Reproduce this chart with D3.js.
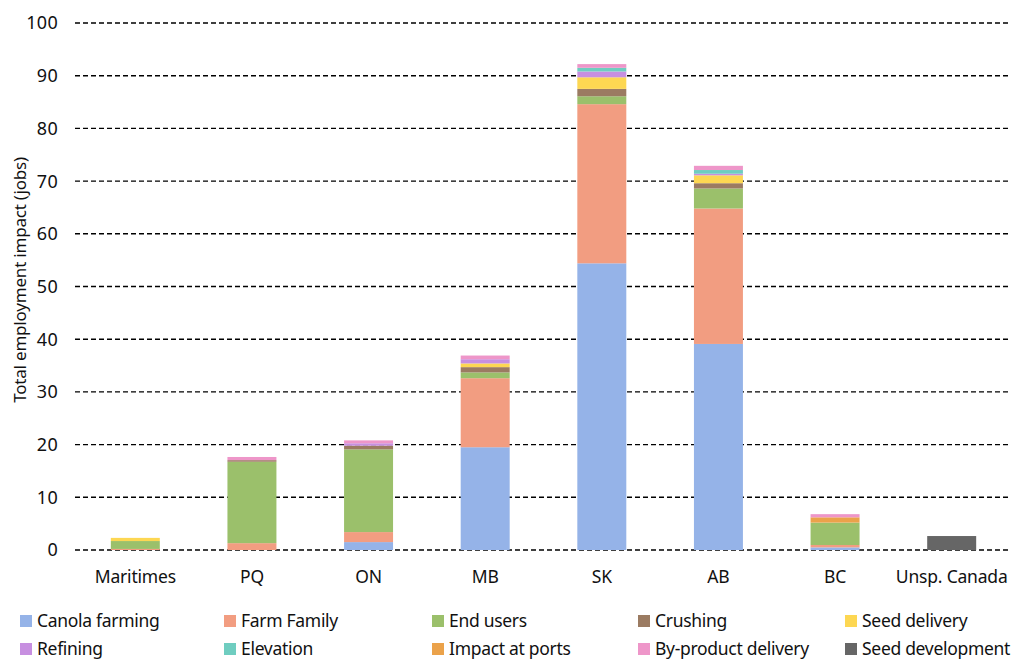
<!DOCTYPE html>
<html lang="en">
<head>
<meta charset="UTF-8">
<title>Total employment impact</title>
<script src="https://d3js.org/d3.v7.min.js"></script>
<style>
    body { margin: 0; background: #fff; }
    text { font-family: "Noto Sans", "Open Sans", sans-serif; fill: #111; }
</style>
</head>
<body>
<script>

// data
const regions = ['Maritimes', 'PQ', 'ON', 'MB', 'SK', 'AB', 'BC', 'Unsp. Canada'];
const series = ['Canola farming', 'Farm Family', 'End users', 'Crushing', 'Seed delivery',
                'Refining', 'Elevation', 'Impact at ports', 'By-product delivery', 'Seed development'];
const colors = ['#95b3e8', '#f29d81', '#9bc06b', '#9b7b62', '#fdd752',
                '#c78fe0', '#6fcdc0', '#eba24a', '#ee96c9', '#666666'];

const canolaFarming    = [0,   0,    1.5,  19.5, 54.4, 39.1, 0.5, 0];
const farmFamily       = [0.2, 1.3,  1.9,  13.1, 30.2, 25.7, 0.45, 0];
const endUsers         = [1.5, 15.45, 15.7, 1.1, 1.5,  3.8,  4.25, 0];
const crushing         = [0,   0.3,  0.7,  1.0,  1.4,  1.0,  0,   0];
const seedDelivery     = [0.6, 0,    0,    0.7,  2.2,  1.5,  0,   0];
const refining         = [0,   0,    0.45, 0.8,  1.1,  0.3,  0,   0];
const elevation        = [0,   0,    0,    0,    0.7,  0.7,  0,   0];
const impactAtPorts    = [0,   0,    0,    0,    0,    0,    1.0, 0];
const byProduct        = [0,   0.6,  0.55, 0.7,  0.7,  0.8,  0.6, 0];
const seedDevelopment  = [0,   0,    0,    0,    0,    0,    0,   2.65];

const yTicks = [0, 10, 20, 30, 40, 50, 60, 70, 80, 90, 100];

const valueRows = [canolaFarming, farmFamily, endUsers, crushing, seedDelivery,
                   refining, elevation, impactAtPorts, byProduct, seedDevelopment];
const table = regions.map((r, i) => {
    const row = { region: r };
    series.forEach((s, j) => row[s] = valueRows[j][i]);
    return row;
});

const width = 1021, height = 659;
const svg = d3.select('body').append('svg')
    .attr('width', width).attr('height', height);

const x = d3.scaleBand().domain(regions).range([77, 1010])
    .paddingInner(0.58).paddingOuter(0.29);
const y = d3.scaleLinear().domain([0, 100]).range([550, 23]);

// gridlines
svg.append('g')
    .selectAll('line')
    .data(yTicks)
    .enter()
    .append('line')
    .attr('x1', 75).attr('x2', 1010)
    .attr('y1', d => y(d)).attr('y2', d => y(d))
    .style('stroke', '#000')
    .style('stroke-width', '1.4px')
    .style('stroke-dasharray', '5,3');

// y tick labels
svg.append('g')
    .selectAll('text')
    .data(yTicks)
    .enter()
    .append('text')
    .attr('x', 58)
    .attr('y', d => y(d))
    .attr('dy', '0.36em')
    .attr('text-anchor', 'end')
    .style('font-size', '18px')
    .style('letter-spacing', '0.3px')
    .text(d => d);

svg.append('text')
    .attr('transform', 'translate(26,280) rotate(-90)')
    .attr('text-anchor', 'middle')
    .style('font-size', '17px')
    .style('letter-spacing', '-0.2px')
    .text('Total employment impact (jobs)');

// stacked bars
const stacked = d3.stack().keys(series)(table);
svg.append('g')
    .selectAll('g')
    .data(stacked)
    .enter()
    .append('g')
    .style('fill', (d, i) => colors[i])
    .selectAll('rect')
    .data(d => d.filter(p => p[1] - p[0] > 0))
    .enter()
    .append('rect')
    .attr('x', d => x(d.data.region))
    .attr('width', x.bandwidth())
    .attr('y', d => y(d[1]))
    .attr('height', d => y(d[0]) - y(d[1]));

// x labels
svg.append('g')
    .selectAll('text')
    .data(regions)
    .enter()
    .append('text')
    .attr('x', d => x(d) + x.bandwidth() / 2)
    .attr('y', 583)
    .attr('text-anchor', 'middle')
    .style('font-size', '17.5px')
    .style('letter-spacing', '-0.2px')
    .text(d => d);

// legend
const legendX = [20, 224, 432, 638, 845];
const legend = svg.append('g')
    .selectAll('g')
    .data(series)
    .enter()
    .append('g')
    .attr('transform', (d, i) => `translate(${legendX[i % 5]},${i < 5 ? 621 : 649})`);
legend.append('rect')
    .attr('x', 0).attr('y', -6)
    .attr('width', 12).attr('height', 12)
    .style('fill', (d, i) => colors[i]);
legend.append('text')
    .attr('x', 17)
    .attr('dy', '0.36em')
    .style('font-size', '17.5px')
    .style('letter-spacing', '-0.3px')
    .text(d => d);

</script>
</body>
</html>
